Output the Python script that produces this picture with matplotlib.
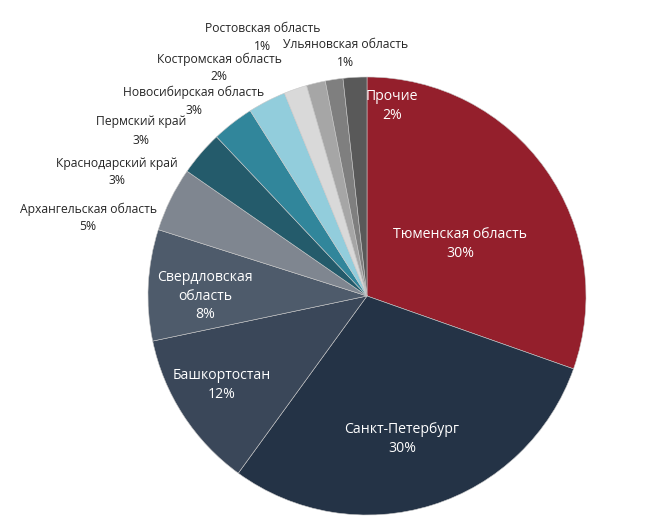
import matplotlib
matplotlib.use('Agg')
import matplotlib.pyplot as plt

matplotlib.rcParams['font.family'] = ['Open Sans', 'DejaVu Sans']

# shares of the pie, clockwise from the top
regions = ['Тюменская область', 'Санкт-Петербург', 'Башкортостан',
           'Свердловская\nобласть', 'Архангельская область', 'Краснодарский край',
           'Пермский край', 'Новосибирская область', 'Костромская область',
           'Ростовская область', 'Ульяновская область', 'Прочие']
shares = [30.4, 29.6, 11.7, 8.2, 4.75, 3.3, 3.1, 2.8, 1.7, 1.4, 1.3, 1.75]
colors = ['#941f2c', '#243346', '#3a4759', '#4e5b6b', '#7f8690', '#245b6b',
          '#31869b', '#92cddc', '#d9d9d9', '#a6a6a6', '#7f7f7f', '#595959']

# label anchor points (pixels from top-left) and whether label sits inside the pie
label_xy = [(460, 244), (402, 439), (222, 385), (205, 296), (88, 218), (117, 172),
            (141, 131), (194, 101), (219, 68), (263, 38), (346, 53), (392, 106)]
inside = [True, True, True, True, False, False, False, False, False, False, False, True]

W, H = 649, 529
fig = plt.figure(figsize=(W / 100, H / 100), dpi=100)
ax = fig.add_axes([0, 0, 1, 1])

ax.pie(shares, colors=colors, startangle=90, counterclock=False,
       center=(367, H - 296), radius=219,
       wedgeprops=dict(edgecolor='#c8c8c8', linewidth=0.4))

# pie() resets the limits, so set them afterwards
ax.set_xlim(0, W)
ax.set_ylim(0, H)
ax.set_aspect('equal')
ax.axis('off')

for name, val, (x, y), ins in zip(regions, shares, label_xy, inside):
    pct = '{:d}%'.format(int(round(val)))
    if ins:
        ax.text(x, H - y, name + '\n' + pct, ha='center', va='center', color='white',
                fontsize=10.1, linespacing=1.35)
    else:
        # name and value as two texts, the small top labels sit close together
        ax.text(x, H - y + 9, name, ha='center', va='center', color='#262626',
                fontsize=8.7)
        ax.text(x, H - y - 9, pct, ha='center', va='center', color='#262626',
                fontsize=8.7)

fig.savefig('out.png', dpi=100)
